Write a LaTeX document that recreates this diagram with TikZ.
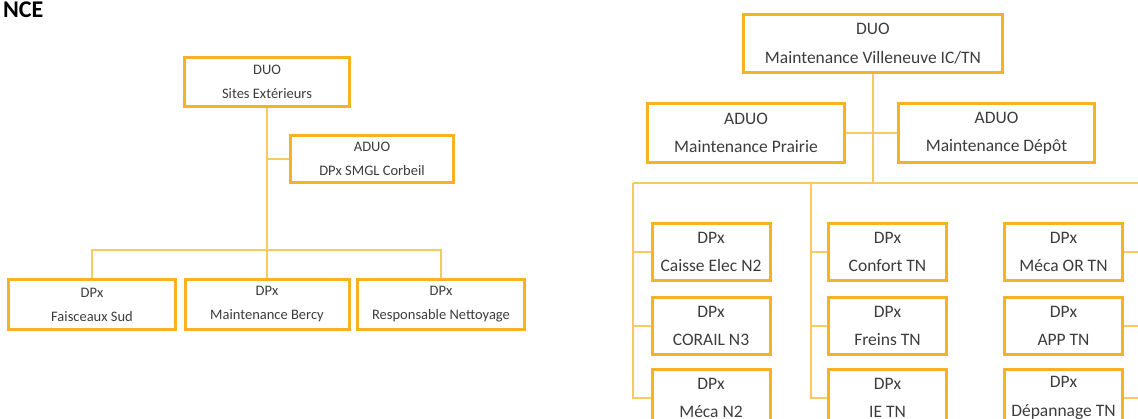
\documentclass[tikz,border=0pt]{standalone}
\usepackage{fontspec}
\setmainfont{Carlito}
\definecolor{boxc}{RGB}{245,178,35}
\definecolor{linec}{RGB}{248,202,100}
\definecolor{txt}{RGB}{60,60,60}
\begin{document}
\begin{tikzpicture}[x=1pt,y=-1pt,
  lbox/.style={draw=boxc, line width=3pt, inner sep=0pt, align=center, text=txt,
    font=\fontsize{14.5}{24}\selectfont, minimum height=49pt},
  rbox/.style={draw=boxc, line width=3pt, inner sep=0pt, align=center, text=txt,
    font=\fontsize{17.5}{28.5}\selectfont, minimum height=58pt},
  conn/.style={draw=linec, line width=1.5pt}]
\useasboundingbox (0,0) rectangle (1138,419);
\node[anchor=base east, inner sep=0pt, font=\fontsize{24}{24}\selectfont\bfseries] (title) at (43.5,17.5) {NCE};
% left tree
\node[lbox, minimum width=165pt] (duo1) at (267,82) {DUO\\Sites Extérieurs};
\node[lbox, minimum width=163pt, minimum height=47pt] (aduo1) at (372,159) {ADUO\\DPx SMGL Corbeil};
\node[lbox, minimum width=167pt, minimum height=50pt] (b1) at (92,304.5) {DPx\\Faisceaux Sud};
\node[lbox, minimum width=164pt, minimum height=50pt] (b2) at (267,304.5) {DPx\\Maintenance Bercy};
\node[lbox, minimum width=167pt, minimum height=50pt] (b3) at (441,304.5) {DPx\\Responsable Nettoyage};
\coordinate (busL) at (267,250);
\draw[conn] (duo1.south) -- (b2.north);
\draw[conn] (duo1.south |- aduo1.west) -- (aduo1.west);
\draw[conn] (b1.north) -- (b1.north |- busL) -| (b3.north);
% right tree
\node[rbox, minimum width=259pt] (duo2) at (873,43.5) {DUO\\Maintenance Villeneuve IC/TN};
\node[rbox, minimum width=197pt, minimum height=59pt] (pra) at (746,133) {ADUO\\Maintenance Prairie};
\node[rbox, minimum width=196pt, minimum height=59pt] (dep) at (996.5,133) {ADUO\\Maintenance Dépôt};
\foreach \n/\x/\y/\t in {c11/711/252/Caisse Elec N2, c12/711/326/CORAIL N3, c13/711/398/Méca N2,
  c21/887.5/252/Confort TN, c22/887.5/326/Freins TN, c23/887.5/398/IE TN,
  c31/1063.5/252/Méca OR TN, c32/1063.5/326/APP TN, c33/1063.5/398/Dépannage TN}
  \node[rbox, minimum width=118pt, minimum height=57pt] (\n) at (\x,\y) {DPx\\\t};
\coordinate (busR) at (873,183);
\coordinate (v1) at (633,183);
\coordinate (v2) at (811,183);
\coordinate (v3) at (1140,183);
\draw[conn] (duo2.south) -- (busR);
\draw[conn] (pra.east) -- (dep.west);
\draw[conn] (v1) -- (v3);
\draw[conn] (v1) |- (c13.west);
\draw[conn] (v1 |- c11.west) -- (c11.west);
\draw[conn] (v1 |- c12.west) -- (c12.west);
\draw[conn] (v2) |- (c23.west);
\draw[conn] (v2 |- c21.west) -- (c21.west);
\draw[conn] (v2 |- c22.west) -- (c22.west);
\draw[conn] (v3) |- (c33.east);
\draw[conn] (v3 |- c31.east) -- (c31.east);
\draw[conn] (v3 |- c32.east) -- (c32.east);
\end{tikzpicture}
\end{document}
